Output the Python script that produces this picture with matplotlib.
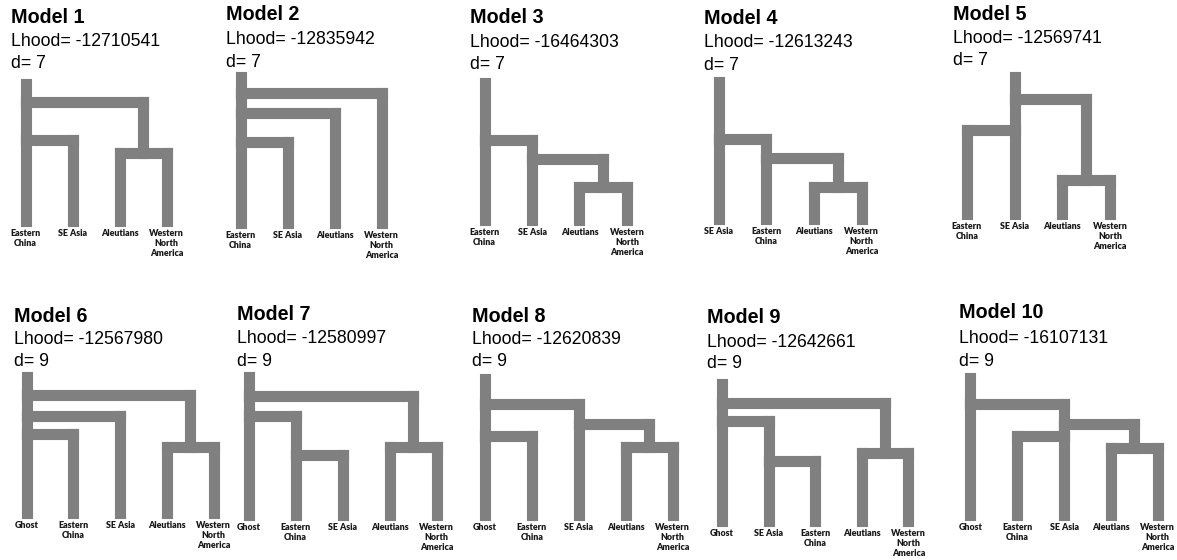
import matplotlib
matplotlib.use("Agg")
import matplotlib.pyplot as plt

W, H = 1177, 560

# model summaries
models = ["Model 1", "Model 2", "Model 3", "Model 4", "Model 5",
          "Model 6", "Model 7", "Model 8", "Model 9", "Model 10"]
lhood = [-12710541, -12835942, -16464303, -12613243, -12569741,
         -12567980, -12580997, -12620839, -12642661, -16107131]
n_params = [7, 7, 7, 7, 7, 9, 9, 9, 9, 9]

EC = "Eastern\nChina"
SE = "SE Asia"
AL = "Aleutians"
WNA = "Western\nNorth\nAmerica"
GH = "Ghost"

leaf_order = [
    [EC, SE, AL, WNA],
    [EC, SE, AL, WNA],
    [EC, SE, AL, WNA],
    [SE, EC, AL, WNA],
    [EC, SE, AL, WNA],
    [GH, EC, SE, AL, WNA],
    [GH, EC, SE, AL, WNA],
    [GH, EC, SE, AL, WNA],
    [GH, SE, EC, AL, WNA],
    [GH, EC, SE, AL, WNA],
]

# topologies: (anchor, split height, left, right); ints are leaf indices
# anchor says where the ancestral line sits: L = left child, R = right child, M = between
trees = [
    ("L", 0.865, ("L", 0.584, 0, 1), ("M", 0.496, 2, 3)),
    ("L", 0.890, ("L", 0.753, ("L", 0.548, 0, 1), 2), 3),
    ("L", 0.577, 0, ("L", 0.442, 1, ("M", 0.237, 2, 3))),
    ("L", 0.577, 0, ("L", 0.438, 1, ("M", 0.230, 2, 3))),
    ("L", 0.836, ("R", 0.613, 0, 1), ("M", 0.241, 2, 3)),
    ("L", 0.864, ("L", 0.706, ("L", 0.577, 0, 1), 2), ("M", 0.485, 3, 4)),
    ("L", 0.859, ("L", 0.717, 0, ("L", 0.428, 1, 2)), ("M", 0.489, 3, 4)),
    ("L", 0.809, ("L", 0.574, 0, 1), ("L", 0.665, 2, ("M", 0.493, 3, 4))),
    ("L", 0.861, ("L", 0.723, 0, ("L", 0.431, 1, 2)), ("M", 0.496, 3, 4)),
    ("L", 0.807, 0, ("L", 0.664, ("R", 0.573, 1, 2), ("M", 0.489, 3, 4))),
]

# panel layout in pixels: first leaf x, last leaf x, root top y, tip y
tree_box = [
    (25.5, 166.5, 83.5, 220.5),
    (240.5, 381.5, 76.5, 222.5),
    (484.5, 627, 82.5, 219.5),
    (718.5, 861.5, 81.5, 218.5),
    (967, 1110, 76.5, 213.5),
    (26.5, 213.5, 376.5, 512.5),
    (248.5, 436.5, 376.5, 514.5),
    (485, 672.5, 378.5, 514.5),
    (722, 908.5, 383.5, 520.5),
    (970.5, 1157.5, 377.5, 514.5),
]
# text x and baselines of the three header lines
text_pos = [
    (11, 23, 46, 68),
    (226, 20, 44, 67),
    (470, 23, 47, 69),
    (704, 24, 47, 70),
    (953, 20, 43, 65),
    (14, 322, 344, 366),
    (237, 320, 343, 366),
    (472, 322, 344, 366),
    (707, 323, 347, 368),
    (959, 318, 343, 366),
]

GREY = "#808080"
LW = 8.0

fig = plt.figure(figsize=(W / 100, H / 100), dpi=100)
fig.patch.set_facecolor("white")


def seg(ax, xs, ys):
    ax.plot(xs, ys, color=GREY, lw=LW, solid_capstyle="projecting", clip_on=False)


def draw(ax, node):
    if isinstance(node, int):
        return node, 0.0
    anchor, h, left, right = node
    xl, yl = draw(ax, left)
    xr, yr = draw(ax, right)
    seg(ax, [xl, xl], [yl, h])
    seg(ax, [xr, xr], [yr, h])
    seg(ax, [xl, xr], [h, h])
    if anchor == "L":
        x = xl
    elif anchor == "R":
        x = xr
    else:
        x = (xl + xr) / 2
    return x, h


for i in range(len(models)):
    x0, x1, top, bot = tree_box[i]
    ax = fig.add_axes([x0 / W, 1 - bot / H, (x1 - x0) / W, (bot - top) / H])
    ax.set_xlim(0, len(leaf_order[i]) - 1)
    ax.set_ylim(0, 1)
    ax.axis("off")

    rx, ry = draw(ax, trees[i])
    seg(ax, [rx, rx], [ry, 1.0])

    for j, name in enumerate(leaf_order[i]):
        ax.annotate(name, xy=(j, 0), xytext=(0, -6), textcoords="offset points",
                    ha="center", va="top", fontsize=6.4, fontweight="heavy",
                    family="Lato", color="#1a1a1a", linespacing=1.15,
                    annotation_clip=False)

    tx, y1, y2, y3 = text_pos[i]
    fig.text(tx / W, 1 - y1 / H, models[i], fontsize=14.2, fontweight="bold",
             family="Liberation Sans", va="baseline", ha="left")
    fig.text(tx / W, 1 - y2 / H, "Lhood= %d" % lhood[i], fontsize=12.7,
             family="Liberation Sans", va="baseline", ha="left")
    fig.text(tx / W, 1 - y3 / H, "d= %d" % n_params[i], fontsize=12.7,
             family="Liberation Sans", va="baseline", ha="left")

fig.savefig("out.png", dpi=100, facecolor="white")
